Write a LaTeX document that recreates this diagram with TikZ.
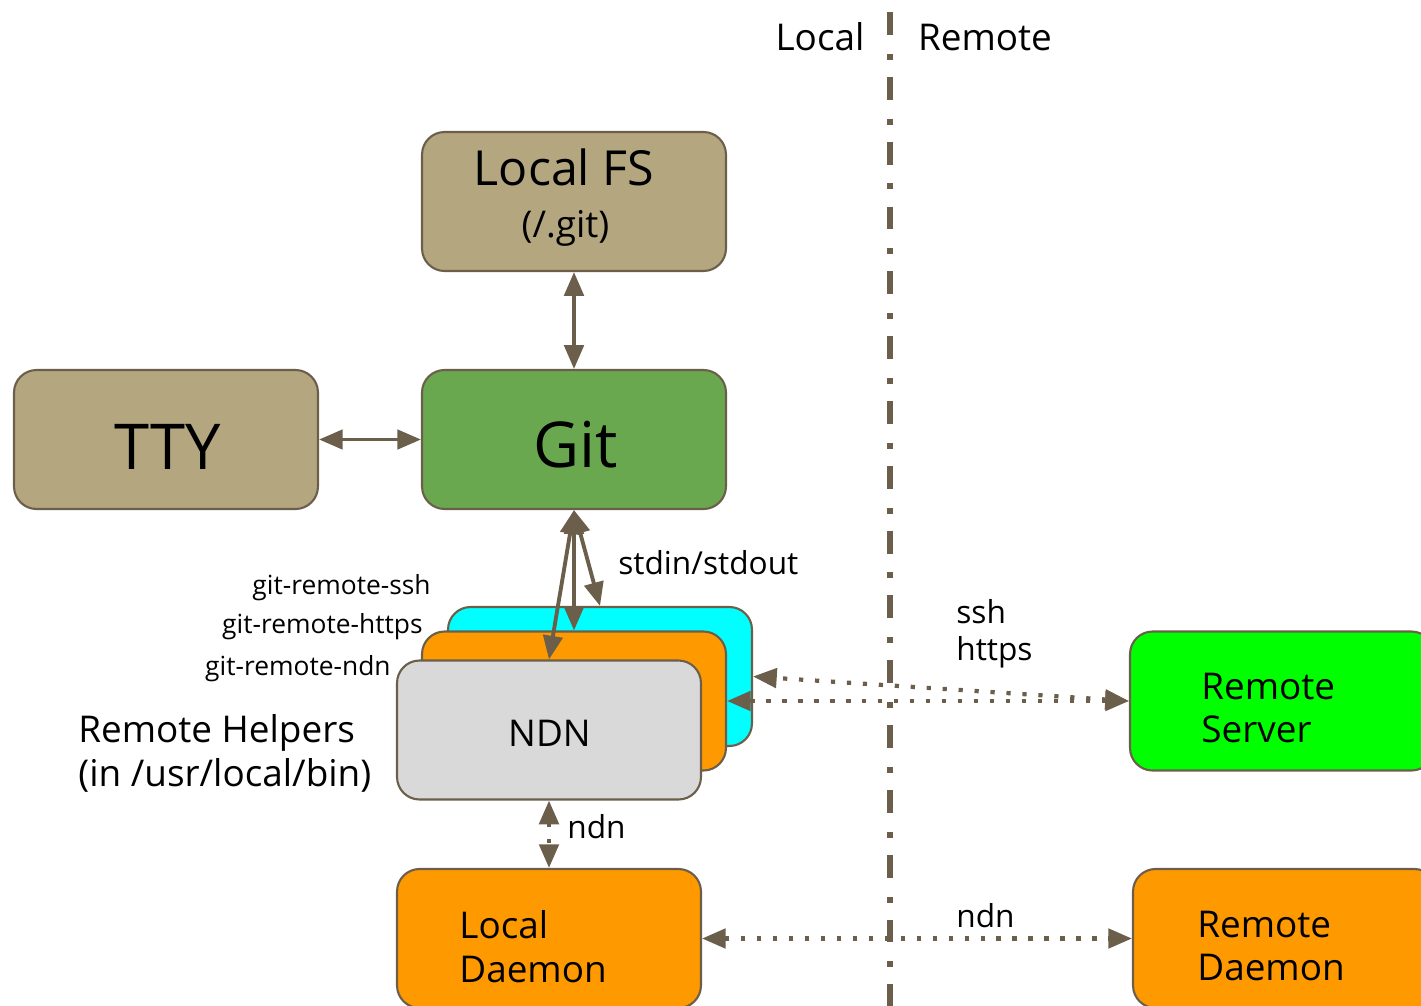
\documentclass[tikz,border=0pt]{standalone}
\usepackage{fontspec}
\setmainfont{Open Sans}
\usetikzlibrary{arrows.meta}
\definecolor{edge}{HTML}{6B5F4B}
\definecolor{tanfill}{HTML}{B4A77F}
\definecolor{gitgreen}{HTML}{6AA84F}
\definecolor{helpcyan}{HTML}{00FFFF}
\definecolor{helporange}{HTML}{FF9900}
\definecolor{helpgray}{HTML}{D9D9D9}
\definecolor{brightgreen}{HTML}{00FF00}
\tikzset{
  box/.style={draw=edge, line width=1.2pt, rounded corners=0.45cm, minimum width=6.08cm,
    minimum height=2.78cm, inner sep=0pt},
  boxtext/.style={inner sep=0pt, text=black, align=left, font=\fontsize{21}{25}\selectfont},
  hugetext/.style={inner sep=0pt, text=black, font=\fontsize{36}{40}\selectfont},
  tip/.tip={Triangle[length=13.5pt,width=11pt]},
  arr/.style={draw=edge, line width=2.2pt, tip-tip},
  dotarr/.style={arr, line width=2.4pt, dash pattern=on 2.4pt off 6.7pt},
  sepline/.style={draw=edge, line width=3.6pt, dash pattern=on 13pt off 10.8pt on 3.4pt off 9.7pt},
  lbl/.style={inner sep=0pt, text=black, font=\fontsize{18}{22}\selectfont},
  biglbl/.style={inner sep=0pt, text=black, font=\fontsize{21}{25}\selectfont},
  smalllbl/.style={inner sep=0pt, text=black, font=\fontsize{15}{18}\selectfont},
}
\begin{document}
\begin{tikzpicture}[x=0.02cm,y=-0.02cm]
\useasboundingbox (0,0) rectangle (1421,1005);
\clip (0,0) rectangle (1421,1005);

% Local / Remote separator
\coordinate (septop) at (890,12);
\coordinate (sepbot) at (890,1010);
\draw[sepline] (septop) -- (sepbot);
\node[biglbl, anchor=base] (localtxt) at (820,50) {Local};
\node[biglbl, anchor=base] (remotetxt) at (985,50) {Remote};

% boxes
\node[box, fill=tanfill] (fs) at (574,201.5) {};
\node[inner sep=0pt, font=\fontsize{27.5}{30}\selectfont] (fstitle) at (564,167) {Local FS};
\node[boxtext] (fssub) at (565.5,228) {(/.git)};

\node[box, fill=tanfill] (tty) at (166,439.5) {};
\node[hugetext] (ttytext) at (167.5,447) {TTY};
\node[box, fill=gitgreen] (git) at (574,439.5) {};
\node[hugetext] (gittext) at (576,445) {Git};

\node[box, fill=helpcyan] (cyan) at (600,676.5) {};
\node[box, fill=helporange] (orange) at (574,701) {};
\node[box, fill=helpgray] (ndn) at (549,730) {};
\node[boxtext] (ndntext) at (549.5,733) {NDN};

\node[box, fill=brightgreen] (rs) at (1282,701) {};
\node[boxtext, anchor=west] (rstext) at (1201,708) {Remote\\Server};
\node[box, fill=helporange] (ld) at (549,938.5) {};
\node[boxtext, anchor=west] (ldtext) at (459,946.5) {Local\\Daemon};
\node[box, fill=helporange] (rd) at (1285,938.5) {};
\node[boxtext, anchor=west] (rdtext) at (1197,946) {Remote\\Daemon};

% labels
\node[smalllbl, anchor=base east] (lssh) at (431,594) {git-remote-ssh};
\node[smalllbl, anchor=base east] (lhttps) at (423,633) {git-remote-https};
\node[smalllbl, anchor=base east] (lndn) at (391,675) {git-remote-ndn};
\node[biglbl, anchor=west, align=left] (helpers) at (78,753) {Remote Helpers\\(in /usr/local/bin)};
\node[lbl, anchor=base west] (stdio) at (618,574) {stdin/stdout};
\node[lbl, anchor=base west] (sshtxt) at (956,623) {ssh};
\node[lbl, anchor=base west] (httpstxt) at (956,660) {https};
\node[lbl, anchor=base west] (ndntxt1) at (567,838) {ndn};
\node[lbl, anchor=base west] (ndntxt2) at (956,927) {ndn};

% connectors
\draw[arr] (fs.south) -- (git.north);
\draw[arr] (tty.east) -- (git.west);
\draw[arr] (git.south) -- (ndn.north);
\draw[arr] (git.south) -- (orange.north);
\draw[arr] (git.south) -- (cyan.north);
\draw[dotarr] (rs.west) -- (cyan.east);
\draw[dotarr] (rs.west) -- (orange.east);
\draw[dotarr] (ndn.south) -- (ld.north);
\draw[dotarr] (ld.east) -- (rd.west);
\end{tikzpicture}
\end{document}
